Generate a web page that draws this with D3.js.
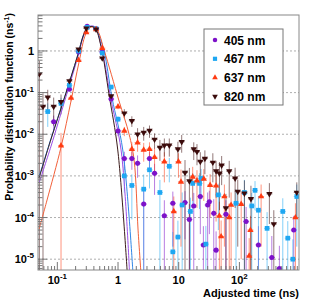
<!DOCTYPE html>
<html>
<head>
<meta charset="utf-8">
<script src="https://cdn.jsdelivr.net/npm/d3@7"></script>
<style>
  body { margin: 0; background: #fff; }
  text { font-family: "Liberation Sans", Arial, sans-serif; font-weight: bold; fill: #000; }
</style>
</head>
<body>
<script>
// data: time (ns), value (ns^-1), error
const t405 = [0.087, 0.158, 0.224, 0.31, 0.435, 0.55, 0.77, 1.0, 1.27, 1.69, 2.1, 2.65, 3.3, 4.0, 5.8, 8.0, 12.7, 15, 17.7, 22.7, 25.5, 30, 32, 37.8, 41.3, 60, 129, 206, 342, 456, 787];
const v405 = [0.02, 0.12, 0.95, 3.9, 3.4, 0.95, 0.07, 0.012, 0.0026, 0.0026, 0.002, 0.00021, 0.0026, 0.00115, 0.00011, 0.00022, 0.00023, 0.00009, 0.00019, 0.00032, 2.2e-5, 0.0002, 0.00024, 0.000126, 1.65e-5, 0.00012, 8e-5, 2.2e-5, 1.1e-5, 6e-6, 5e-5];
const e405 = [0.008, 0.012, 0.05, 0.12, 0.1, 0.05, 0.008, 0.003, 0.0012, 0.0012, 0.0011, 0.0003, 0.0012, 0.0008, 0.00015, 0.0002, 0.0002, 0.00012, 0.0002, 0.00028, 4e-5, 0.0002, 0.0002, 0.00015, 3e-5, 0.00014, 0.0001, 4e-5, 2.5e-5, 1.5e-5, 6e-5];

const t467 = [0.0695, 0.115, 0.158, 0.224, 0.31, 0.435, 0.55, 0.77, 1.0, 1.27, 1.69, 2.65, 3.3, 4.9, 7.0, 8.0, 9.7, 11.4, 15.6, 17, 22, 23.4, 28, 45, 88, 121, 160, 181, 206, 286, 519, 627, 760, 883];
const v467 = [0.035, 0.055, 0.15, 1.0, 3.7, 3.4, 0.89, 0.136, 0.023, 0.001, 0.00059, 0.00048, 0.0014, 0.0004, 0.0017, 1.5e-5, 3.4e-5, 0.0002, 0.00014, 0.00066, 0.00066, 0.00087, 2.3e-5, 0.00035, 0.00022, 0.0004, 0.00019, 0.00045, 0.00015, 5.5e-5, 0.00014, 3.2e-5, 1e-5, 0.00032];
const e467 = [0.02, 0.02, 0.015, 0.05, 0.12, 0.1, 0.04, 0.01, 0.004, 0.0006, 0.0005, 0.0006, 0.0009, 0.0004, 0.001, 3e-5, 5e-5, 0.0002, 0.00016, 0.0005, 0.0005, 0.0006, 4e-5, 0.0003, 0.00025, 0.0004, 0.0002, 0.0003, 0.00018, 8e-5, 0.00015, 5e-5, 2e-5, 0.0003];

const t637 = [0.115, 0.168, 0.224, 0.30, 0.435, 0.55, 1.0, 1.27, 1.69, 2.1, 2.65, 3.3, 4.0, 5.8, 8.3, 9.9, 10.9, 17, 20, 25.9, 32.9, 41.3, 46.8, 50, 56.6, 68, 73, 107, 145, 152, 228, 838];
const v637 = [0.0053, 0.074, 0.6, 2.8, 3.3, 1.17, 0.046, 0.012, 0.0044, 0.0063, 0.0042, 0.0044, 0.0028, 0.0022, 0.00014, 0.0022, 0.00072, 0.00095, 0.00077, 0.00085, 0.0006, 0.00058, 0.00011, 3.5e-5, 0.00032, 0.0001, 0.0002, 0.00021, 1.2e-5, 5e-5, 0.00032, 0.0001];
const e637 = [0.0055, 0.012, 0.04, 0.1, 0.1, 0.05, 0.006, 0.003, 0.002, 0.0025, 0.002, 0.002, 0.0018, 0.0015, 0.00018, 0.0013, 0.0007, 0.0007, 0.0006, 0.0006, 0.0005, 0.0005, 0.00013, 5e-5, 0.0003, 0.00012, 0.0002, 0.0002, 2e-5, 6e-5, 0.0003, 0.00012];

const t820 = [0.0506, 0.058, 0.0695, 0.087, 0.115, 0.158, 0.224, 0.30, 0.435, 0.55, 0.77, 1.27, 1.69, 2.1, 2.65, 3.3, 4.0, 4.9, 5.8, 7.0, 9.7, 11.2, 12.7, 15, 17.7, 20, 22.7, 27, 36.5, 41.3, 47, 51, 60, 68, 85, 94, 121, 155, 312, 369, 883];
const v820 = [0.28, 0.046, 0.077, 0.046, 0.06, 0.19, 1.1, 3.5, 3.3, 0.67, 0.083, 0.032, 0.021, 0.01, 0.011, 0.0122, 0.0075, 0.0048, 0.0054, 0.0054, 0.0044, 0.0066, 0.0012, 0.00075, 0.0044, 0.0038, 0.0022, 0.0026, 0.0021, 0.0013, 0.00115, 0.0018, 0.00017, 0.0013, 0.00087, 0.00042, 0.00038, 0.00028, 0.00037, 7e-5, 0.0004];
const e820 = [0.3, 0.05, 0.04, 0.03, 0.03, 0.03, 0.06, 0.12, 0.1, 0.04, 0.01, 0.008, 0.006, 0.004, 0.004, 0.004, 0.003, 0.0025, 0.0025, 0.0025, 0.0022, 0.003, 0.0012, 0.0008, 0.002, 0.002, 0.0015, 0.0015, 0.0014, 0.001, 0.001, 0.0012, 0.0002, 0.001, 0.0007, 0.0004, 0.0004, 0.0003, 0.0003, 8e-5, 0.0003];

// fitted curves
const fit405T = [0.05, 0.0788, 0.129, 0.168, 0.22, 0.266, 0.309, 0.36, 0.419, 0.546, 0.769, 1.122, 1.54];
const fit405V = [6.8e-4, 0.0052, 0.056, 0.2, 0.757, 2.16, 3.5, 3.97, 3.76, 1.05, 0.066, 0.0042, 5.5e-6];
const fit467T = [0.05, 0.0788, 0.129, 0.168, 0.22, 0.266, 0.309, 0.36, 0.419, 0.57, 0.798, 1.197, 1.75];
const fit467V = [9.5e-4, 0.008, 0.072, 0.24, 0.85, 2.3, 3.6, 3.9, 3.6, 1.18, 0.074, 0.0042, 5.5e-6];
const fit637T = [0.05, 0.0677, 0.115, 0.168, 0.228, 0.294, 0.36, 0.452, 0.589, 1.04, 1.52, 1.84, 2.14, 2.4];
const fit637V = [5.3e-5, 2.64e-4, 0.0049, 0.0628, 0.543, 2.55, 3.76, 3.18, 1.05, 0.0628, 0.0101, 0.0024, 5.0e-5, 4.2e-6];
const fit820T = [0.05, 0.0788, 0.129, 0.168, 0.22, 0.266, 0.309, 0.36, 0.419, 0.526, 0.713, 0.99, 1.41];
const fit820V = [8.9e-4, 0.0077, 0.07, 0.237, 0.845, 2.28, 3.56, 3.86, 3.56, 1.26, 0.0875, 0.0042, 5.5e-6];

const labels = ["405 nm", "467 nm", "637 nm", "820 nm"];
const xTickExp = [-1, 0, 1, 2];
const yTickExp = [-5, -4, -3, -2, -1, 0];

const width = 315, height = 302;
const L = 38, R = 299, T = 15, B = 270;

const x = d3.scaleLog().domain([0.048, 960]).range([L, R]);
const y = d3.scaleLog().domain([5.5e-6, 7.3]).range([B, T]);

const series = [
  {t: t405, v: v405, e: e405, ft: fit405T, fv: fit405V, color: "#7d12c9", fit: "#9a4ee6", sym: d3.symbolCircle, size: 20, rot: 0},
  {t: t467, v: v467, e: e467, ft: fit467T, fv: fit467V, color: "#1ea7f2", fit: "#2f86e6", sym: d3.symbolSquare, size: 22, rot: 0},
  {t: t637, v: v637, e: e637, ft: fit637T, fv: fit637V, color: "#ff3b12", fit: "#f2603a", sym: d3.symbolTriangle, size: 17, rot: 0},
  {t: t820, v: v820, e: e820, ft: fit820T, fv: fit820V, color: "#3b0b0b", fit: "#3a1a1a", sym: d3.symbolTriangle, size: 17, rot: 180}
];

const svg = d3.select("body").append("svg")
  .attr("width", width)
  .attr("height", height)
  .attr("viewBox", [0, 0, width, height]);

svg.append("defs").append("clipPath").attr("id", "plot")
  .append("rect").attr("x", L).attr("y", T).attr("width", R - L).attr("height", B - T);

// horizontal grid at decades
svg.append("g").selectAll("line")
  .data(yTickExp)
  .join("line")
  .attr("x1", L).attr("x2", R)
  .attr("y1", d => y(Math.pow(10, d))).attr("y2", d => y(Math.pow(10, d)))
  .attr("stroke", "#999").attr("stroke-dasharray", "2,2").attr("stroke-width", 0.8);

const plot = svg.append("g").attr("clip-path", "url(#plot)");

// error bars
series.forEach(s => {
  const pts = s.t.map((t, i) => ({t, v: s.v[i], e: s.e[i]}));
  const g = plot.append("g").attr("stroke", s.color).attr("stroke-opacity", 0.55).attr("stroke-width", 1);
  g.selectAll(".ev").data(pts).join("line")
    .attr("x1", d => x(d.t)).attr("x2", d => x(d.t))
    .attr("y1", d => y(d.v + d.e))
    .attr("y2", d => d.v - d.e > 0 ? y(d.v - d.e) : B + 2);
  g.selectAll(".eh").data(pts).join("line")
    .attr("x1", d => x(d.t) - 3).attr("x2", d => x(d.t) + 3)
    .attr("y1", d => y(d.v)).attr("y2", d => y(d.v));
});

// fit curves
const line = d3.line()
  .x(d => x(d[0]))
  .y(d => y(d[1]))
  .curve(d3.curveCatmullRom.alpha(0.5));

series.forEach(s => {
  plot.append("path")
    .datum(s.ft.map((t, i) => [t, s.fv[i]]))
    .attr("d", line)
    .attr("fill", "none")
    .attr("stroke", s.fit)
    .attr("stroke-width", 1);
});

// markers
series.forEach(s => {
  const sym = d3.symbol().type(s.sym).size(s.size);
  plot.append("g").selectAll("path")
    .data(s.t.map((t, i) => ({t, v: s.v[i]})))
    .join("path")
    .attr("d", sym)
    .attr("transform", d => `translate(${x(d.t)},${y(d.v)}) rotate(${s.rot})`)
    .attr("fill", s.color);
});

// frame
svg.append("rect")
  .attr("x", L).attr("y", T).attr("width", R - L).attr("height", B - T)
  .attr("fill", "none").attr("stroke", "#888").attr("stroke-width", 1);

// log ticks
function logTicks(scale) {
  const [a, b] = scale.domain();
  const major = [], minor = [];
  for (let d = Math.floor(Math.log10(a)); d <= Math.ceil(Math.log10(b)); d++) {
    for (let k = 1; k < 10; k++) {
      const v = k * Math.pow(10, d);
      if (v < a || v > b) continue;
      (k === 1 ? major : minor).push(v);
    }
  }
  return {major, minor};
}

const yt = logTicks(y), xt = logTicks(x);
const axes = svg.append("g").attr("stroke", "#777").attr("stroke-width", 1);
axes.selectAll(".ymaj").data(yt.major).join("line")
  .attr("x1", L).attr("x2", L + 9).attr("y1", d => y(d)).attr("y2", d => y(d));
axes.selectAll(".ymin").data(yt.minor).join("line")
  .attr("x1", L).attr("x2", L + 4.5).attr("y1", d => y(d)).attr("y2", d => y(d));
axes.selectAll(".xmaj").data(xt.major).join("line")
  .attr("y1", B).attr("y2", B - 8).attr("x1", d => x(d)).attr("x2", d => x(d));
axes.selectAll(".xmin").data(xt.minor).join("line")
  .attr("y1", B).attr("y2", B - 4).attr("x1", d => x(d)).attr("x2", d => x(d));

function powLabel(sel, e) {
  if (e === 0) { sel.text("1"); return; }
  sel.append("tspan").text("10");
  if (e !== 1) sel.append("tspan").attr("dy", -5).attr("font-size", 8).text(e);
}

svg.append("g").selectAll("text")
  .data(yTickExp)
  .join("text")
  .attr("x", 34)
  .attr("y", d => y(Math.pow(10, d)) + 4)
  .attr("text-anchor", "end")
  .attr("font-size", 11)
  .each(function(d) { powLabel(d3.select(this), d); });

svg.append("g").selectAll("text")
  .data(xTickExp)
  .join("text")
  .attr("x", d => x(Math.pow(10, d)))
  .attr("y", 284)
  .attr("text-anchor", "middle")
  .attr("font-size", 11)
  .each(function(d) { powLabel(d3.select(this), d); });

// axis titles
svg.append("text")
  .attr("x", R).attr("y", 297)
  .attr("text-anchor", "end")
  .attr("font-size", 11)
  .text("Adjusted time (ns)");

const yTitle = svg.append("text")
  .attr("transform", "translate(13,13) rotate(-90)")
  .attr("text-anchor", "end")
  .attr("font-size", 10.5);
yTitle.append("tspan").text("Probability distribution function (ns");
yTitle.append("tspan").attr("dy", -4).attr("font-size", 7).text("-1");
yTitle.append("tspan").attr("dy", 4).text(")");

// legend
const leg = svg.append("g");
leg.append("rect")
  .attr("x", 204).attr("y", 29).attr("width", 79).attr("height", 76)
  .attr("fill", "#fff").attr("stroke", "#777").attr("stroke-width", 1);
const rows = leg.selectAll("g.row")
  .data(series)
  .join("g")
  .attr("transform", (d, i) => `translate(215,${40 + i * 18.8})`);
rows.append("path")
  .attr("d", d => d3.symbol().type(d.sym).size(d.size * 0.8)())
  .attr("transform", d => `rotate(${d.rot})`)
  .attr("fill", d => d.color);
rows.append("text")
  .attr("x", 9).attr("y", 4.5)
  .attr("font-size", 12)
  .text((d, i) => labels[i]);
</script>
</body>
</html>
